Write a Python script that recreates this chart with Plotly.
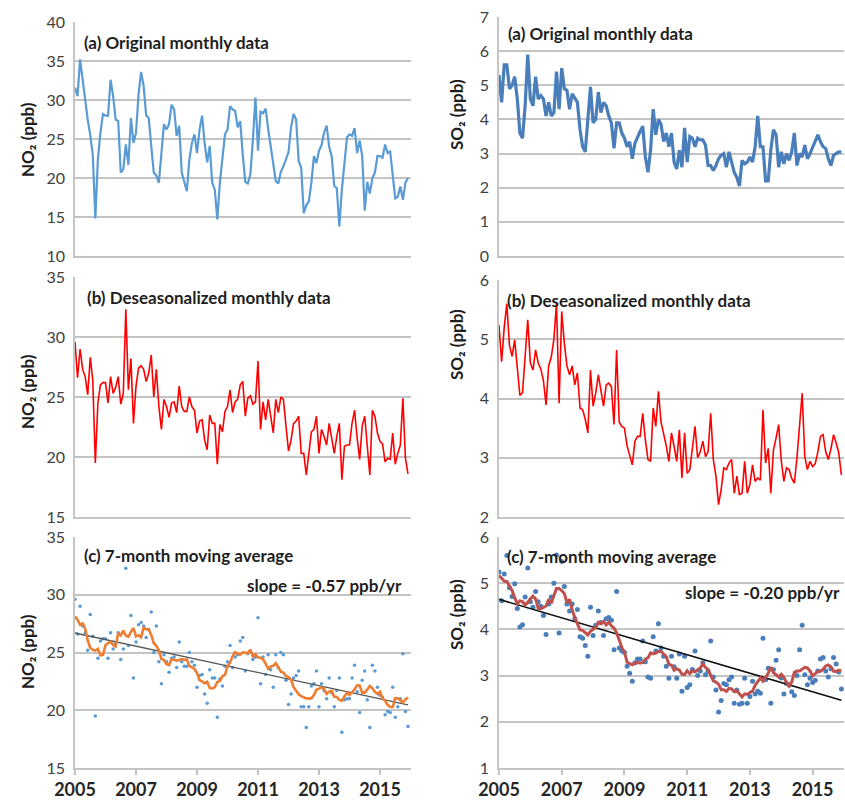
import numpy as np
import pandas as pd
import plotly.graph_objects as go
from plotly.subplots import make_subplots

W, H = 845, 800

# Monthly values, Jan 2005 - Dec 2015
no2_original = [
    31.6, 30.5, 35.2, 32.5, 30.0, 27.5, 25.5, 23.0, 14.8, 22.4, 25.8, 28.2,
    28.0, 28.0, 32.6, 30.5, 27.5, 27.3, 20.7, 21.1, 24.3, 21.7, 27.7, 24.5,
    25.8, 30.7, 33.6, 31.8, 28.0, 27.7, 24.1, 20.7, 20.3, 19.4, 23.2, 26.9,
    26.2, 26.9, 29.4, 28.8, 25.4, 26.7, 20.7, 19.4, 18.3, 22.4, 24.5, 25.6,
    23.2, 26.2, 28.0, 24.5, 22.0, 24.1, 19.4, 18.5, 14.7, 19.4, 22.4, 25.6,
    26.2, 29.2, 28.8, 28.6, 26.5, 27.3, 23.0, 19.5, 19.3, 20.5, 25.0, 30.3,
    23.5, 28.5, 28.3, 28.9, 26.3, 24.0, 22.0, 19.6, 19.3, 20.8, 21.5, 22.5,
    23.3, 26.5, 28.2, 27.5, 22.2, 21.3, 15.5, 16.5, 17.0, 19.4, 22.8, 21.9,
    23.5, 24.2, 25.8, 26.7, 24.0, 22.8, 19.0, 18.7, 13.8, 18.5, 22.3, 25.2,
    25.6, 25.4, 26.4, 23.2, 24.8, 22.8, 15.8, 19.5, 18.0, 20.0, 20.7, 22.8,
    22.8, 22.6, 24.3, 23.2, 23.4, 20.2, 17.4, 17.6, 18.9, 17.2, 19.4, 20.0,
]
no2_deseason = [
    29.6, 26.6, 29.0, 27.3, 26.7, 25.2, 28.3, 26.4, 19.5, 24.5, 26.0, 26.2,
    26.2, 24.5, 26.7, 25.3, 25.8, 26.7, 24.4, 25.3, 32.3, 25.6, 28.2, 22.8,
    25.9, 27.4, 27.6, 27.3, 26.3, 27.0, 28.5, 25.0, 27.3, 24.2, 22.3, 24.8,
    24.2, 23.3, 24.5, 24.6, 23.7, 25.9, 24.2, 23.8, 23.8, 25.0, 24.2, 23.9,
    22.0, 23.0, 23.1, 21.4, 20.6, 23.5, 22.8, 22.8, 19.4, 22.7, 22.1, 23.8,
    24.2, 25.6, 23.7, 24.6, 24.8, 26.0, 26.3, 23.4, 24.9, 25.1, 24.4, 24.6,
    28.0, 22.3, 24.6, 23.1, 24.8, 23.5, 22.0, 24.8, 23.7, 25.0, 24.8, 22.6,
    20.5, 21.4, 22.8, 23.0, 23.4, 20.3, 20.3, 18.5, 20.3, 22.1, 22.3, 23.4,
    20.3, 22.3, 21.7, 21.0, 22.8, 21.5, 20.3, 21.7, 22.8, 18.1, 20.9, 21.0,
    21.0, 22.8, 23.9, 21.6, 19.8, 22.6, 23.4, 20.9, 18.5, 23.9, 23.4, 22.0,
    21.3, 21.1, 19.6, 19.9, 19.8, 22.0, 19.4, 20.3, 21.0, 24.9, 19.9, 18.6,
]
so2_original = [
    5.30, 4.50, 5.60, 5.60, 4.90, 5.00, 5.25, 4.60, 3.60, 3.45, 4.40, 5.90,
    4.60, 4.40, 5.25, 4.60, 4.70, 4.60, 4.10, 4.50, 4.10, 4.20, 5.40, 4.30,
    5.50, 4.90, 4.85, 4.30, 4.75, 4.60, 4.50, 3.70, 3.20, 3.05, 4.00, 4.95,
    3.90, 4.00, 4.80, 4.20, 4.50, 4.40, 4.10, 3.90, 3.15, 3.90, 3.90, 3.60,
    3.45, 3.20, 3.35, 2.85, 3.30, 3.50, 3.65, 3.80, 2.90, 2.45, 3.10, 4.30,
    3.55, 4.00, 3.85, 3.35, 3.60, 3.20, 3.60, 2.75, 2.55, 3.10, 2.60, 3.75,
    2.75, 3.50, 3.45, 3.20, 3.45, 3.40, 3.40, 3.25, 2.65, 2.65, 2.50, 2.65,
    2.85, 2.95, 3.00, 2.60, 3.05, 2.75, 2.45, 2.30, 2.05, 2.80, 2.70, 2.75,
    2.90, 2.75, 3.20, 4.10, 3.20, 3.20, 2.20, 2.20, 3.10, 3.70, 3.55, 2.60,
    3.05, 2.70, 3.00, 2.80, 3.05, 3.60, 2.65, 3.00, 2.90, 3.25, 2.85, 3.00,
    3.20, 3.35, 3.55, 3.35, 3.20, 3.15, 2.85, 2.65, 2.95, 3.00, 3.05, 3.05,
]
so2_deseason = [
    5.24, 4.62, 5.20, 5.60, 4.90, 4.71, 4.99, 4.45, 4.05, 4.10, 4.70, 5.33,
    4.60, 4.48, 4.82, 4.60, 4.50, 4.30, 3.89, 4.55, 4.70, 5.00, 5.61, 3.92,
    5.47, 4.93, 4.55, 4.40, 4.55, 4.23, 4.43, 3.84, 3.81, 3.65, 3.42, 4.48,
    3.87, 4.09, 4.40, 4.15, 3.87, 4.23, 4.26, 4.20, 3.56, 4.82, 3.60, 3.53,
    3.50, 3.20, 3.05, 2.88, 3.28, 3.36, 3.36, 3.75, 3.30, 2.97, 2.94, 3.84,
    3.53, 4.12, 3.60, 3.42, 3.20, 2.94, 3.42, 3.19, 2.94, 3.47, 2.66, 3.42,
    2.74, 2.80, 3.13, 3.53, 3.00, 3.10, 3.28, 3.02, 3.10, 3.75, 2.97, 2.69,
    2.21, 2.46, 2.83, 2.80, 2.91, 2.97, 2.40, 2.69, 2.38, 2.40, 2.94, 2.40,
    2.55, 2.88, 2.60, 2.66, 2.62, 3.81, 2.91, 3.16, 2.40, 3.13, 3.33, 3.56,
    2.95, 2.60, 2.83, 2.80, 2.65, 2.57, 3.00, 3.56, 4.09, 3.02, 2.80, 2.94,
    2.85, 2.90, 3.10, 3.36, 3.39, 3.10, 2.97, 3.15, 3.39, 3.25, 3.08, 2.71,
]

NO2_SLOPE = -0.57   # ppb per year
SO2_SLOPE = -0.20   # ppb per year
year_ticks = [2005, 2007, 2009, 2011, 2013, 2015]

t = 2005 + np.arange(len(no2_original)) / 12.0


def moving_avg(vals, n=7):
    return pd.Series(vals).rolling(n, center=True, min_periods=1).mean().to_numpy()


def trend(vals, slope):
    v = np.asarray(vals)
    b = v.mean() - slope * t.mean()
    xs = np.array([t[0], t[-1]])
    return xs, b + slope * xs


def px_x(p):
    return p / W


def px_y(p):
    return 1 - p / H


fig = make_subplots(rows=3, cols=2)

BLUE_L = "#5B9BD5"
BLUE_D = "#4A7EBB"
RED = "#FF0000"
ORANGE = "#ED7D31"
DKRED = "#C0504D"

# (a) original
fig.add_trace(go.Scatter(x=t, y=no2_original, mode="lines",
                         line=dict(color=BLUE_L, width=2.2)), row=1, col=1)
fig.add_trace(go.Scatter(x=t, y=so2_original, mode="lines",
                         line=dict(color=BLUE_D, width=3.2)), row=1, col=2)
# (b) deseasonalized
fig.add_trace(go.Scatter(x=t, y=no2_deseason, mode="lines",
                         line=dict(color=RED, width=1.6)), row=2, col=1)
fig.add_trace(go.Scatter(x=t, y=so2_deseason, mode="lines",
                         line=dict(color=RED, width=1.6)), row=2, col=2)
# (c) scatter + moving average + trend
fig.add_trace(go.Scatter(x=t, y=no2_deseason, mode="markers",
                         marker=dict(color=BLUE_L, size=3.5)), row=3, col=1)
tx, ty = trend(no2_deseason, NO2_SLOPE)
fig.add_trace(go.Scatter(x=tx, y=ty, mode="lines",
                         line=dict(color="#555555", width=1.3)), row=3, col=1)
fig.add_trace(go.Scatter(x=t, y=moving_avg(no2_deseason), mode="lines",
                         line=dict(color=ORANGE, width=2.6)), row=3, col=1)

fig.add_trace(go.Scatter(x=t, y=so2_deseason, mode="markers",
                         marker=dict(color=BLUE_D, size=5)), row=3, col=2)
tx, ty = trend(so2_deseason, SO2_SLOPE)
fig.add_trace(go.Scatter(x=tx, y=ty, mode="lines",
                         line=dict(color="#111111", width=1.6)), row=3, col=2)
fig.add_trace(go.Scatter(x=t, y=moving_avg(so2_deseason), mode="lines",
                         line=dict(color=DKRED, width=3)), row=3, col=2)

GRID = "#C4C4C4"
TICKFONT = dict(family="Lato", size=16, color="#404040")

x_left = [px_x(75), px_x(410.5)]
x_right = [px_x(499), px_x(844)]
rows_y = {
    1: ([px_y(256), px_y(22)], [px_y(256), px_y(17)]),
    2: ([px_y(517), px_y(277)], [px_y(517), px_y(280)]),
    3: ([px_y(768), px_y(537)], [px_y(768), px_y(537)]),
}
y_ranges = {
    1: ([10, 40, 5], [0, 7, 1]),
    2: ([15, 35, 5], [2, 6, 1]),
    3: ([15, 35, 5], [1, 6, 1]),
}

for r in (1, 2, 3):
    for c in (1, 2):
        k = (r - 1) * 2 + c
        xa = "xaxis" if k == 1 else f"xaxis{k}"
        ya = "yaxis" if k == 1 else f"yaxis{k}"
        dom_y = rows_y[r][c - 1]
        lo, hi, step = y_ranges[r][c - 1]
        bottom = r == 3
        fig.layout[xa].update(
            domain=x_left if c == 1 else x_right, automargin=False,
            range=[2005, 2016], showgrid=False, zeroline=False,
            showline=True, linecolor=GRID, linewidth=1.5,
            tickmode="array", tickvals=year_ticks,
            ticktext=[f"<b>{y}</b>" for y in year_ticks],
            showticklabels=bottom, ticks="outside" if bottom else "",
            ticklen=5, tickcolor=GRID, tickwidth=1.5,
            tickfont=dict(family="Lato", size=18, color="#262626"),
        )
        fig.layout[ya].update(
            domain=dom_y, range=[lo, hi], dtick=step, tick0=lo,
            automargin=False,
            showgrid=True, gridcolor=GRID, gridwidth=1.5,
            zeroline=False, showline=True, linecolor=GRID, linewidth=1.5,
            ticks="", tickfont=TICKFONT, ticklabelstandoff=5,
        )

ann = []


def label(text, x, y, size=17, xanchor="left"):
    ann.append(dict(text=f"<b>{text}</b>", x=px_x(x), y=px_y(y),
                    xref="paper", yref="paper", xanchor=xanchor,
                    yanchor="middle", showarrow=False,
                    font=dict(family="Lato", size=size, color="#1E1E1E")))


def ytitle(text, x, y):
    ann.append(dict(text=f"<b>{text}</b>", x=px_x(x), y=px_y(y),
                    xref="paper", yref="paper", xanchor="center",
                    yanchor="middle", showarrow=False, textangle=-90,
                    font=dict(family="Lato", size=17, color="#1E1E1E")))


label("(a) Original monthly data", 82, 43)
label("(a) Original monthly data", 506, 34)
label("(b) Deseasonalized monthly data", 85, 297)
label("(b) Deseasonalized monthly data", 505, 300)
label("(c) 7-month moving average", 82, 555)
label("(c) 7-month moving average", 505, 556)
label(f"slope = {NO2_SLOPE:.2f} ppb/yr", 404, 585, xanchor="right")
label(f"slope = {SO2_SLOPE:.2f} ppb/yr", 842, 592, xanchor="right")

ytitle("NO₂ (ppb)", 27, 140)
ytitle("NO₂ (ppb)", 27, 392)
ytitle("NO₂ (ppb)", 27, 652)
ytitle("SO₂ (ppb)", 456, 115)
ytitle("SO₂ (ppb)", 456, 345)
ytitle("SO₂ (ppb)", 456, 615)

fig.update_layout(
    width=W, height=H, margin=dict(l=0, r=0, t=0, b=0),
    paper_bgcolor="white", plot_bgcolor="white",
    showlegend=False, annotations=ann,
)

fig.write_html("out.html")
